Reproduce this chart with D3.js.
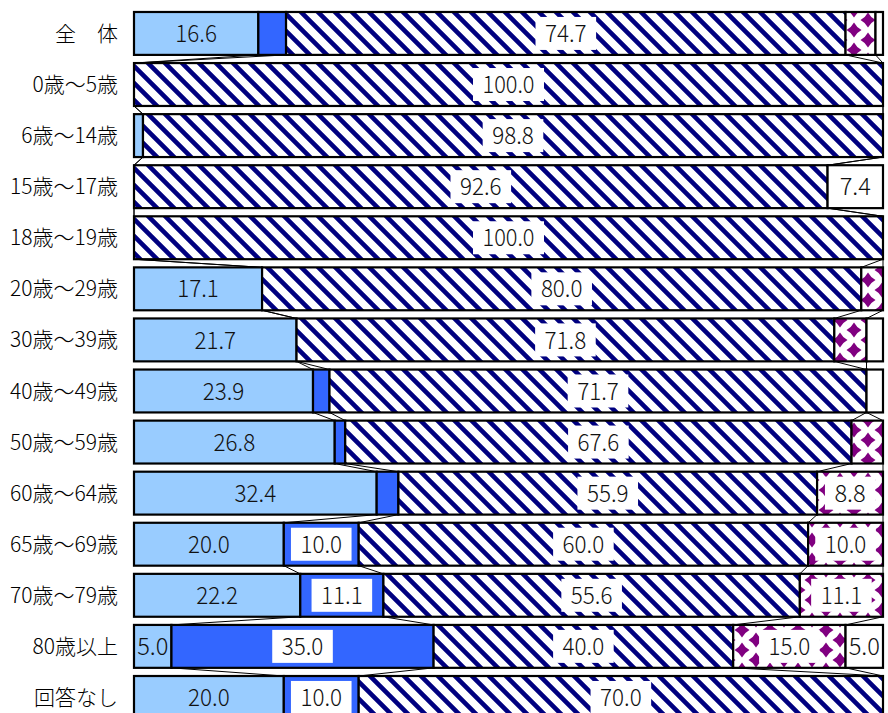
<!DOCTYPE html>
<html>
<head>
<meta charset="utf-8">
<script src="https://cdn.jsdelivr.net/npm/d3@7"></script>
<style>
  html, body { margin: 0; padding: 0; background: #fff; }
  svg { display: block; }
</style>
</head>
<body>
<div id="chart"></div>
<script>
const categories = ["全　体","0歳～5歳","6歳～14歳","15歳～17歳","18歳～19歳","20歳～29歳","30歳～39歳","40歳～49歳","50歳～59歳","60歳～64歳","65歳～69歳","70歳～79歳","80歳以上","回答なし"];
const series1 = [16.6, 0, 1.2, 0, 0, 17.1, 21.7, 23.9, 26.8, 32.4, 20.0, 22.2, 5.0, 20.0];
const series2 = [3.7, 0, 0, 0, 0, 0, 0, 2.2, 1.4, 2.9, 10.0, 11.1, 35.0, 10.0];
const series3 = [74.7, 100.0, 98.8, 92.6, 100.0, 80.0, 71.8, 71.7, 67.6, 55.9, 60.0, 55.6, 40.0, 70.0];
const series4 = [4.0, 0, 0, 0, 0, 2.9, 4.3, 0, 4.2, 8.8, 10.0, 11.1, 15.0, 0];
const series5 = [1.0, 0, 0, 7.4, 0, 0, 2.2, 2.2, 0, 0, 0, 0, 5.0, 0];

const allSeries = [series1, series2, series3, series4, series5];
const fills = ["#99CCFF", "#3366FF", "url(#stripe)", "url(#diamond)", "#FFFFFF"];
const boxed = [false, true, true, true, false];

const W = 888, H = 713;
const svg = d3.select("#chart").append("svg").attr("width", W).attr("height", H);

const defs = svg.append("defs");
const P = 17;
const st = defs.append("pattern").attr("id", "stripe").attr("patternUnits", "userSpaceOnUse")
  .attr("width", P).attr("height", P);
st.append("rect").attr("width", P).attr("height", P).attr("fill", "#fff");
st.append("path").attr("d", `M${-P/2},${-P/2} L${P*1.5},${P*1.5} M${-P*1.5},${-P/2} L${P/2},${P*1.5} M${P/2},${-P/2} L${P*2.5},${P*1.5}`)
  .attr("stroke", "#000080").attr("stroke-width", 4.6);

const dm = defs.append("pattern").attr("id", "diamond").attr("patternUnits", "userSpaceOnUse")
  .attr("width", 28).attr("height", 20);
dm.append("rect").attr("width", 28).attr("height", 20).attr("fill", "#fff");
const dPts = [[0,0],[28,0],[0,20],[28,20],[14,10]];
dPts.forEach(([cx, cy]) => {
  const r = 7.5, q = 2.6;
  dm.append("path").attr("d", `M${cx},${cy-r} Q${cx+q},${cy-q} ${cx+r},${cy} Q${cx+q},${cy+q} ${cx},${cy+r} Q${cx-q},${cy+q} ${cx-r},${cy} Q${cx-q},${cy-q} ${cx},${cy-r}Z`)
    .attr("fill", "#800080");
});

const x = d3.scaleLinear().domain([0, 100]).range([134, 883]);
const y = d3.scaleBand().domain(categories).range([7.9, 723]).paddingInner(0.16).paddingOuter(0.08);
const bw = y.bandwidth();

const stacks = categories.map((c, i) => {
  let acc = 0;
  return allSeries.map((s, k) => { const v = s[i]; const r = {k, v, x0: acc, x1: acc + v, cat: c}; acc += v; return r; });
});

// series lines
const lineG = svg.append("g");
for (let i = 0; i < categories.length - 1; i++) {
  for (let k = 0; k < 4; k++) {
    lineG.append("line")
      .attr("x1", x(stacks[i][k].x1)).attr("y1", y(categories[i]) + bw)
      .attr("x2", x(stacks[i+1][k].x1)).attr("y2", y(categories[i+1]))
      .attr("stroke", "#000").attr("stroke-width", 1);
  }
}

// bars
const barG = svg.append("g");
stacks.forEach(row => {
  row.forEach(seg => {
    if (seg.v <= 0) return;
    barG.append("rect")
      .attr("x", x(seg.x0)).attr("y", y(seg.cat))
      .attr("width", x(seg.x1) - x(seg.x0)).attr("height", bw)
      .attr("fill", fills[seg.k]).attr("stroke", "#000").attr("stroke-width", 2.2);
  });
});

// value labels
const labG = svg.append("g");
stacks.forEach(row => {
  row.forEach(seg => {
    if (seg.v < 5) return;
    const t = seg.v.toFixed(1);
    const tl = t.length * 10.4;
    const cx = (x(seg.x0) + x(seg.x1)) / 2;
    const cy = y(seg.cat) + bw / 2;
    if (boxed[seg.k]) {
      const bwid = tl + 19;
      labG.append("rect").attr("x", cx - bwid / 2).attr("y", cy - 16.5)
        .attr("width", bwid).attr("height", 33).attr("fill", "#fff");
    }
    labG.append("text").attr("x", cx).attr("y", cy).attr("dy", "0.36em")
      .attr("text-anchor", "middle")
      .attr("font-family", "'Noto Sans CJK JP', sans-serif").attr("font-size", 24)
      .attr("font-weight", 300)
      .attr("textLength", tl).attr("lengthAdjust", "spacingAndGlyphs")
      .attr("fill", "#111").text(t);
  });
});

// category labels
const yAxis = d3.axisLeft(y).tickSize(0).tickPadding(0);
const ax = svg.append("g").attr("transform", "translate(118,0)").call(yAxis);
ax.select(".domain").remove();
ax.selectAll("text").attr("font-family", "'Noto Sans CJK JP', sans-serif")
  .attr("font-size", 21).attr("font-weight", 300).attr("fill", "#000").attr("dy", "0.36em");
</script>
</body>
</html>
